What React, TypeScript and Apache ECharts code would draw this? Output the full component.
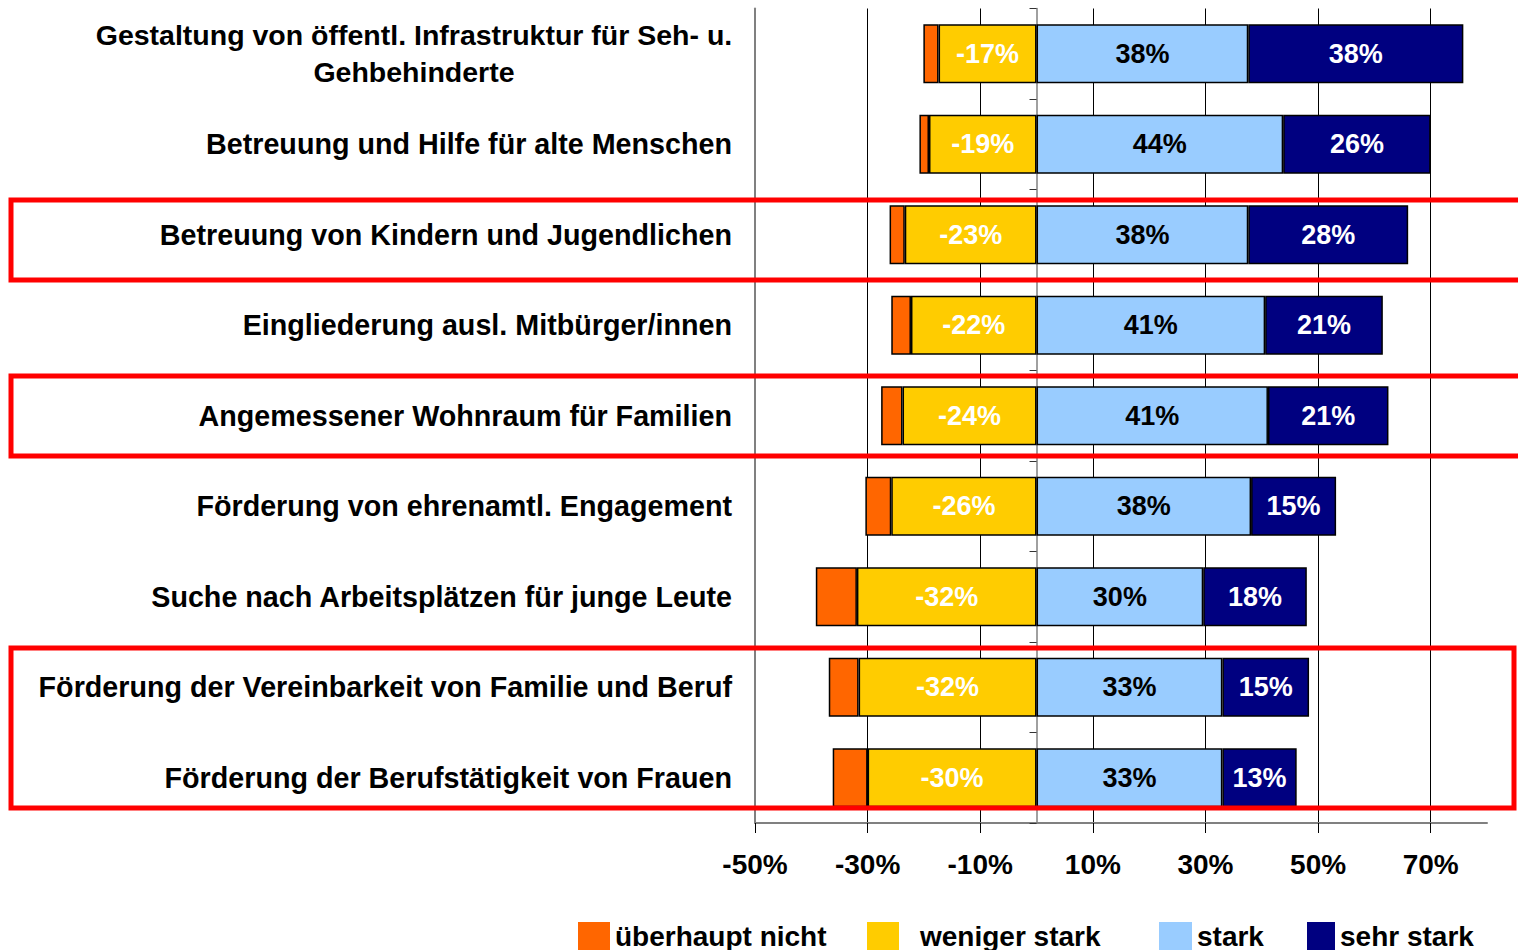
import React, { useEffect, useRef } from "react";
import * as echarts from "echarts";

const categories = [
  "Gestaltung von öffentl. Infrastruktur für Seh- u. Gehbehinderte",
  "Betreuung und Hilfe für alte Menschen",
  "Betreuung von Kindern und Jugendlichen",
  "Eingliederung ausl. Mitbürger/innen",
  "Angemessener Wohnraum für Familien",
  "Förderung von ehrenamtl. Engagement",
  "Suche nach Arbeitsplätzen für junge Leute",
  "Förderung der Vereinbarkeit von Familie und Beruf",
  "Förderung der Berufstätigkeit von Frauen",
];

const ueberhauptNicht = [-2.7, -1.7, -2.7, -3.5, -3.8, -4.6, -7.3, -5.3, -6.2];
const wenigerStark = [-17.4, -19.1, -23.4, -22.3, -23.8, -25.8, -31.9, -31.6, -30.0];
const stark = [37.6, 43.8, 37.6, 40.6, 41.1, 38.1, 29.6, 33.0, 33.0];
const sehrStark = [38.2, 26.2, 28.4, 20.9, 21.4, 15.1, 18.4, 15.4, 13.2];

const tickValues = [-50, -30, -10, 10, 30, 50, 70];

const FONT = '"Liberation Sans", Arial, Helvetica, sans-serif';

export default function App() {
  const ref = useRef<HTMLDivElement>(null);

  useEffect(() => {
    if (!ref.current) return;
    const chart = echarts.init(ref.current, undefined, { renderer: "svg" });

    const barLabel = (color: string) => ({
      show: true,
      position: "inside",
      color,
      fontSize: 27,
      fontWeight: "bold",
      fontFamily: FONT,
      formatter: (p: any) => `${Math.round(p.value)}%`,
    });

    const border = { borderColor: "#000", borderWidth: 1.5 };

    const legendBase = {
      top: 922,
      itemWidth: 32,
      itemHeight: 28,
      padding: 0,
      icon: "rect",
      itemStyle: { borderWidth: 0 },
      textStyle: { fontSize: 28, fontWeight: "bold", fontFamily: FONT, color: "#000" },
      selectedMode: false,
    };

    const option: any = {
      animation: false,
      textStyle: { fontFamily: FONT },
      grid: { left: 755, right: 31, top: 8.5, bottom: 127, containLabel: false },
      xAxis: {
        type: "value",
        min: -50,
        max: 80,
        interval: 20,
        axisLine: { show: true, onZero: false, lineStyle: { color: "#808080", width: 2 } },
        axisTick: {
          show: true,
          length: 10,
          customValues: tickValues,
          lineStyle: { color: "#000", width: 1 },
        },
        axisLabel: {
          customValues: tickValues,
          margin: 27,
          fontSize: 28,
          fontWeight: "bold",
          fontFamily: FONT,
          color: "#000",
          formatter: (v: number) => (v > 70 ? "" : `${v}%`),
        },
        splitLine: {
          show: true,
          showMinLine: false,
          showMaxLine: true,
          lineStyle: { color: "#000", width: 1 },
        },
      },
      yAxis: [
        {
          type: "category",
          data: categories,
          inverse: true,
          position: "left",
          axisLine: { show: true, onZero: false, lineStyle: { color: "#808080", width: 2 } },
          axisTick: { show: false },
          axisLabel: {
            margin: 23,
            fontSize: 28.7,
            fontWeight: "bold",
            fontFamily: FONT,
            color: "#000",
            lineHeight: 37,
            formatter: (v: string, i: number) => {
              if (i === 0) {
                return "{c|Gestaltung von öffentl. Infrastruktur für Seh- u.}\n{c|Gehbehinderte}";
              }
              return v;
            },
            rich: {
              c: {
                width: 636,
                align: "center",
                fontSize: 28.5,
                fontWeight: "bold",
                fontFamily: FONT,
                color: "#000",
                lineHeight: 37,
              },
            },
          },
        },
        {
          type: "category",
          data: categories,
          inverse: true,
          position: "left",
          axisLine: { show: true, onZero: true, lineStyle: { color: "#808080", width: 1.5 } },
          axisTick: { show: true, length: 7, lineStyle: { color: "#333", width: 1 } },
          axisLabel: { show: false },
          splitLine: { show: false },
        },
      ],
      legend: [
        { ...legendBase, left: 578, data: ["überhaupt nicht"] },
        { ...legendBase, left: 867, data: ["weniger stark"], textStyle: { ...legendBase.textStyle, padding: [0, 0, 0, 16] } },
        { ...legendBase, left: 1159, itemWidth: 33, data: ["stark"] },
        { ...legendBase, left: 1307, itemWidth: 28, data: ["sehr stark"] },
      ],
      series: [
        {
          name: "weniger stark",
          type: "bar",
          stack: "total",
          barWidth: "65%",
          data: wenigerStark,
          itemStyle: { color: "#FFCC00", ...border },
          label: barLabel("#FFFFFF"),
        },
        {
          name: "überhaupt nicht",
          type: "bar",
          stack: "total",
          barWidth: "65%",
          data: ueberhauptNicht,
          itemStyle: { color: "#FF6600", ...border },
          label: { show: false },
        },
        {
          name: "stark",
          type: "bar",
          stack: "total",
          barWidth: "65%",
          data: stark,
          itemStyle: { color: "#99CCFF", ...border },
          label: barLabel("#000000"),
        },
        {
          name: "sehr stark",
          type: "bar",
          stack: "total",
          barWidth: "65%",
          data: sehrStark,
          itemStyle: { color: "#000080", ...border },
          label: barLabel("#FFFFFF"),
        },
      ],
      graphic: [
        {
          type: "rect",
          z: 100,
          shape: { x: 11, y: 200, width: 1515, height: 80 },
          style: { fill: "none", stroke: "#FF0000", lineWidth: 5 },
        },
        {
          type: "rect",
          z: 100,
          shape: { x: 11, y: 376, width: 1515, height: 80 },
          style: { fill: "none", stroke: "#FF0000", lineWidth: 5 },
        },
        {
          type: "rect",
          z: 100,
          shape: { x: 11, y: 648, width: 1503, height: 160 },
          style: { fill: "none", stroke: "#FF0000", lineWidth: 5 },
        },
      ],
    };

    chart.setOption(option);
    return () => chart.dispose();
  }, []);

  return (
    <div
      ref={ref}
      style={{ position: "fixed", left: 0, top: 0, width: 1518, height: 950, background: "#fff" }}
    />
  );
}
